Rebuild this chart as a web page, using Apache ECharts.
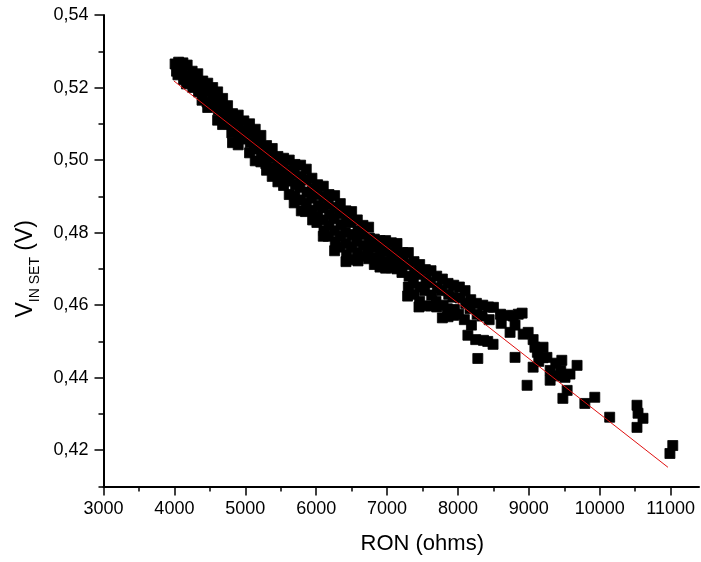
<!DOCTYPE html>
<html>
<head>
<meta charset="utf-8">
<script src="https://cdn.jsdelivr.net/npm/echarts@6/dist/echarts.min.js"></script>
<style>html,body{margin:0;padding:0;background:#fff}#chart{width:701px;height:562px}</style>
</head>
<body>
<div id="chart"></div>
<script>
// RON (ohms) and V_IN SET (V) readings
const ronOhms = [
  4010,4030,
  4060,4070,4050,
  4120,4110,4130,
  4180,4190,4170,
  4250,4240,4260,
  4330,4320,4340,
  4400,4410,4390,
  4470,4480,4460,4470,
  4540,4550,4530,
  4610,4600,4620,4610,
  4680,4690,4670,4680,
  4750,4740,4760,
  4820,4830,4810,4820,
  4900,4890,4910,4900,
  4980,4990,4970,
  5060,5050,5070,5060,
  5140,5150,5130,5140,
  5220,5210,5230,5220,
  5300,5310,5290,5300,
  5380,5370,5390,5380,
  5460,5470,5450,5460,
  5540,5530,5550,5540,
  5620,5630,5610,5620,
  5700,5690,5710,5700,5690,
  5780,5790,5770,5780,5790,
  5860,5850,5870,5860,5850,
  5940,5950,5930,5940,5950,
  6020,6010,6030,6020,6010,
  6100,6110,6090,6100,6110,6100,
  6180,6170,6190,6180,6170,
  6260,6270,6250,6260,6270,6260,
  6340,6330,6350,6340,6330,
  6420,6430,6410,6420,6430,6420,
  6500,6490,6510,6500,6490,
  6580,6590,6570,6580,6590,
  6660,6650,6670,6660,
  6740,6750,6730,6740,
  6820,6810,6830,6820,
  6900,6910,6890,6900,
  6980,6970,6990,6980,
  7060,7070,7050,7060,
  7140,7130,7150,7140,
  7220,7230,7210,
  7300,7290,7310,7300,7290,
  7380,7390,7370,7380,
  7460,7450,7470,7460,7450,
  7540,7550,7530,7540,
  7620,7610,7630,7620,
  7700,7710,7690,7700,
  7780,7770,7790,7780,
  7860,7870,7850,7860,
  7940,7930,7950,7940,
  8020,8030,8010,
  8100,8110,8090,8140,
  8180,8170,8190,
  8260,8270,8250,8280,
  8350,8340,8360,
  8430,8440,8420,
  8500,8495,
  8600,8610,
  8700,8735,
  8780,8805,8805,
  8850,8905,
  8920,8990,8975,
  9060,9085,9060,
  9120,9140,
  9200,9200,9255,
  9300,9300,
  9380,9400,
  9465,9450,9480,
  9510,9540,
  9580,9680,
  9790,9930,10140,
  10525,10540,10610,10525,
  10990,11030
];
const vInSet = [
  0.5265,0.5245,
  0.5270,0.5250,0.5235,
  0.5268,0.5240,0.5222,
  0.5262,0.5232,0.5210,
  0.5245,0.5225,0.5200,
  0.5238,0.5212,0.5188,
  0.5218,0.5195,0.5165,
  0.5212,0.5188,0.5160,0.5145,
  0.5200,0.5178,0.5150,
  0.5188,0.5165,0.5138,0.5110,
  0.5170,0.5148,0.5120,0.5098,
  0.5150,0.5128,0.5100,
  0.5128,0.5105,0.5075,0.5048,
  0.5124,0.5098,0.5070,0.5042,
  0.5108,0.5082,0.5058,
  0.5100,0.5075,0.5048,0.5020,
  0.5085,0.5060,0.5030,0.4998,
  0.5068,0.5040,0.5015,0.4995,
  0.5040,0.5015,0.4990,0.4972,
  0.5032,0.5008,0.4980,0.4955,
  0.5010,0.4988,0.4962,0.4940,
  0.5005,0.4980,0.4955,0.4930,
  0.5000,0.4972,0.4942,0.4905,
  0.4988,0.4960,0.4932,0.4900,0.4882,
  0.4986,0.4955,0.4925,0.4890,0.4860,
  0.4975,0.4945,0.4912,0.4880,0.4858,
  0.4950,0.4922,0.4895,0.4862,0.4835,
  0.4932,0.4905,0.4875,0.4845,0.4828,
  0.4928,0.4900,0.4868,0.4835,0.4805,0.4790,
  0.4905,0.4878,0.4850,0.4820,0.4790,
  0.4902,0.4870,0.4838,0.4805,0.4775,0.4750,
  0.4880,0.4852,0.4822,0.4790,0.4760,
  0.4860,0.4832,0.4800,0.4770,0.4740,0.4720,
  0.4858,0.4828,0.4795,0.4760,0.4725,
  0.4835,0.4805,0.4775,0.4745,0.4722,
  0.4820,0.4795,0.4765,0.4735,
  0.4815,0.4785,0.4755,0.4728,
  0.4782,0.4758,0.4730,0.4712,
  0.4778,0.4752,0.4725,0.4705,
  0.4778,0.4748,0.4720,0.4702,
  0.4772,0.4745,0.4718,0.4703,
  0.4770,0.4742,0.4715,0.4700,
  0.4745,0.4718,0.4690,
  0.4745,0.4712,0.4680,0.4650,0.4625,
  0.4720,0.4692,0.4660,0.4630,
  0.4712,0.4685,0.4650,0.4610,0.4595,
  0.4698,0.4670,0.4640,0.4598,
  0.4695,0.4662,0.4628,0.4598,
  0.4680,0.4648,0.4610,0.4595,
  0.4672,0.4640,0.4600,0.4565,
  0.4660,0.4630,0.4590,0.4568,
  0.4655,0.4622,0.4588,0.4572,
  0.4650,0.4620,0.4575,
  0.4640,0.4605,0.4560,0.4517,
  0.4615,0.4590,0.4545,
  0.4605,0.4575,0.4505,0.4453,
  0.4600,0.4570,0.4503,
  0.4595,0.4560,0.4500,
  0.4594,0.4492,
  0.4575,0.4550,
  0.4572,0.4525,
  0.4570,0.4545,0.4456,
  0.4575,0.4578,
  0.4520,0.4525,0.4379,
  0.4505,0.4484,0.4429,
  0.4470,0.4445,
  0.4484,0.4455,0.4456,
  0.4420,0.4393,
  0.4440,0.4405,
  0.4448,0.4420,0.4343,
  0.4401,0.4365,
  0.4410,0.4434,
  0.4329,0.4346,0.4291,
  0.4324,0.4302,0.4288,0.4263,
  0.4191,0.4213
];
// linear fit line end points
const fitRon = [3994, 10962];
const fitV = [0.5218, 0.4153];
// axis ticks
const xMajorTicks = [3000,4000,5000,6000,7000,8000,9000,10000,11000];
const xMinorTicks = [3500,4500,5500,6500,7500,8500,9500,10500];
const yMajorTicks = [0.42,0.44,0.46,0.48,0.50,0.52,0.54];
const yMinorTicks = [0.41,0.43,0.45,0.47,0.49,0.51,0.53];

const points = ronOhms.map((x, i) => [x, vInSet[i]]);
const fitLine = fitRon.map((x, i) => [x, fitV[i]]);

const FONT = 'Liberation Sans';
const chart = echarts.init(document.getElementById('chart'), null, {renderer: 'canvas'});
const axisCommon = {
  type: 'value',
  splitLine: {show: false},
};
chart.setOption({
  animation: false,
  backgroundColor: '#ffffff',
  grid: {left: 103.5, top: 15, right: 2, bottom: 75.5, containLabel: false},
  xAxis: [
    Object.assign({}, axisCommon, {
      min: 3000, max: 11400,
      axisLine: {show: true, lineStyle: {color: '#000', width: 2}},
      axisTick: {show: true, customValues: xMajorTicks, length: 9, lineStyle: {color: '#000', width: 1.5}},
      axisLabel: {customValues: xMajorTicks, margin: 14, color: '#000', fontFamily: FONT, fontSize: 18,
        formatter: v => String(v)},
      name: 'RON (ohms)', nameLocation: 'middle', nameGap: 46,
      nameTextStyle: {color: '#000', fontFamily: FONT, fontSize: 22, padding: [0, 0, 0, 42]}
    }),
    Object.assign({}, axisCommon, {
      min: 3000, max: 11400, position: 'bottom',
      axisLine: {show: false},
      axisTick: {show: true, customValues: xMinorTicks, length: 5, lineStyle: {color: '#000', width: 1.5}},
      axisLabel: {show: false}
    })
  ],
  yAxis: [
    Object.assign({}, axisCommon, {
      min: 0.41, max: 0.54,
      axisLine: {show: true, lineStyle: {color: '#000', width: 2}},
      axisTick: {show: true, customValues: yMajorTicks, length: 9, lineStyle: {color: '#000', width: 1.5}},
      axisLabel: {customValues: yMajorTicks, margin: 15, color: '#000', fontFamily: FONT, fontSize: 18,
        formatter: v => v.toFixed(2).replace('.', ',')},
      name: '{v|V}{s|IN SET}{v| (V)}', nameLocation: 'middle', nameGap: 60,
      nameTextStyle: {
        color: '#000', fontFamily: FONT, fontSize: 23, padding: [0, 36, 0, 0],
        rich: {
          v: {fontFamily: FONT, fontSize: 23, color: '#000', verticalAlign: 'bottom', padding: [0, 0, 5, 0]},
          s: {fontFamily: FONT, fontSize: 14, color: '#000', verticalAlign: 'bottom'}
        }
      }
    }),
    Object.assign({}, axisCommon, {
      min: 0.41, max: 0.54, position: 'left',
      axisLine: {show: false},
      axisTick: {show: true, customValues: yMinorTicks, length: 5, lineStyle: {color: '#000', width: 1.5}},
      axisLabel: {show: false}
    })
  ],
  series: [
    {
      type: 'scatter', xAxisIndex: 0, yAxisIndex: 0,
      symbol: 'rect', symbolSize: 10,
      itemStyle: {color: '#000', opacity: 1, borderColor: '#000', borderWidth: 0.8},
      data: points, z: 2
    },
    {
      type: 'line', xAxisIndex: 0, yAxisIndex: 0,
      data: fitLine, symbol: 'none',
      lineStyle: {color: '#e01010', width: 1},
      z: 3
    }
  ]
});
</script>
</body>
</html>
